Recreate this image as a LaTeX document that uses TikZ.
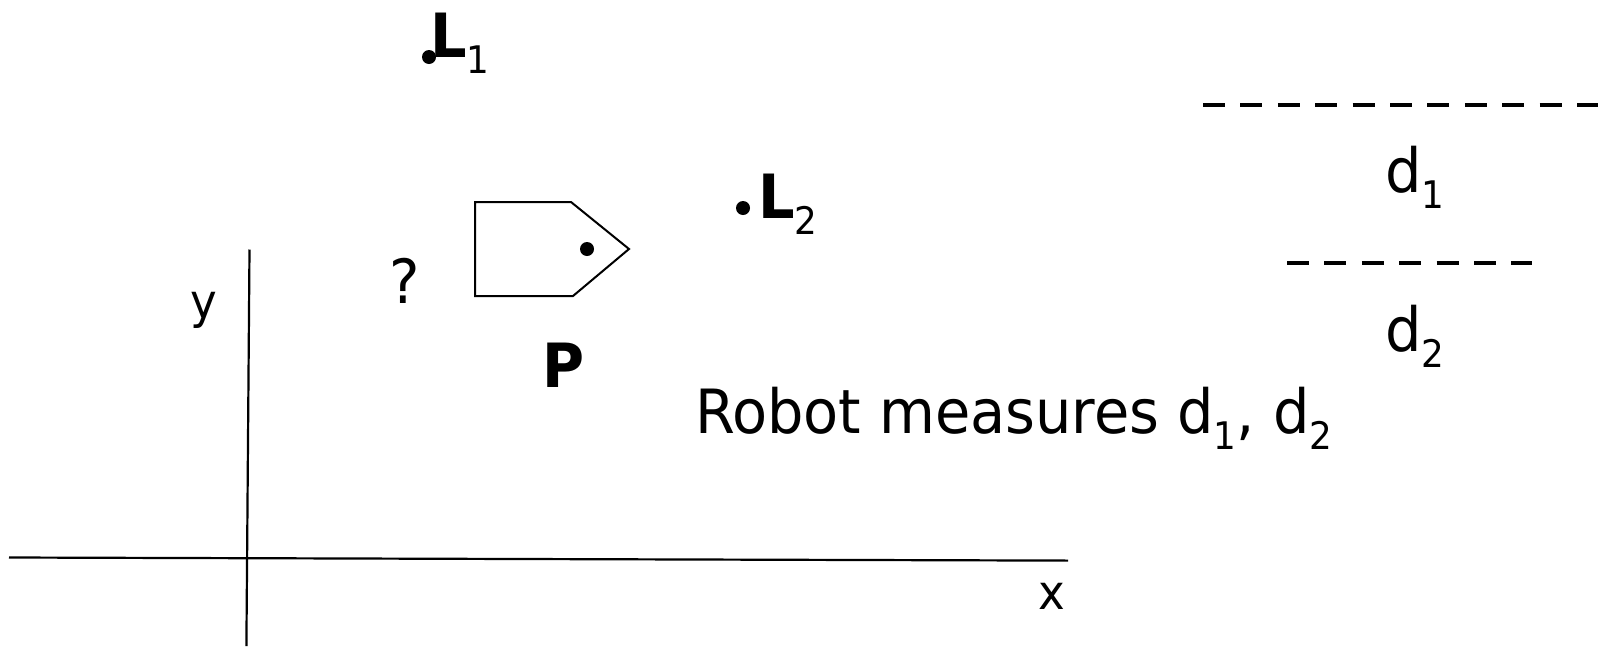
\documentclass[tikz,border=0pt]{standalone}
\usepackage{fontspec}
\setmainfont[FakeStretch=1.045]{DejaVu Sans Condensed}
\newcommand{\bigf}{\fontsize{61}{72}\selectfont}
\newcommand{\axf}{\fontsize{48}{56}\selectfont}
\newcommand{\mysub}[1]{\raisebox{-16pt}{\fontsize{38}{40}\selectfont #1}}
\begin{document}
\begin{tikzpicture}[x=1pt,y=-1pt,
  lbl/.style={inner sep=0pt,anchor=base west,font=\bigf},
  axlbl/.style={inner sep=0pt,anchor=base west,font=\axf},
  axisline/.style={line width=2.2pt},
  dashline/.style={line width=4pt,dash pattern=on 22pt off 15.4pt},
  robotbody/.style={line width=2pt,line join=miter},
  landmark/.style={circle,fill=black,inner sep=0pt,minimum size=14pt}]
\useasboundingbox (0,0) rectangle (1610,646);
% axes
\coordinate (xa) at (9,557.5);
\coordinate (xb) at (1068,560.6);
\coordinate (ya) at (249.5,249.5);
\coordinate (yb) at (246.4,646);
\draw[axisline] (xa) -- (xb);
\draw[axisline] (ya) -- (yb);
\node[axlbl] (ylab) at (190,318) {y};
\node[axlbl] (xlab) at (1038,609) {x};
% landmarks
\node[landmark] (l1dot) at (429,57) {};
\node[lbl] (l1) at (430,57) {\textbf{L}\mysub{1}};
\node[landmark] (l2dot) at (743,208) {};
\node[lbl] (l2) at (758,218) {\textbf{L}\mysub{2}};
% robot
\coordinate (r1) at (475,202);
\coordinate (r2) at (571,202);
\coordinate (r3) at (629,249);
\coordinate (r4) at (573,296);
\coordinate (r5) at (475,296);
\draw[robotbody] (r1) -- (r2) -- (r3) -- (r4) -- (r5) -- cycle;
\node[landmark] (rdot) at (587,249) {};
\node[lbl] (q) at (389,303) {?};
\node[lbl] (p) at (542,387) {\textbf{P}};
\node[lbl] (txt) at (695,433) {Robot measures d\mysub{1}, d\mysub{2}};
% distances
\coordinate (da1) at (1203,105);
\coordinate (da2) at (1598,105);
\coordinate (db1) at (1287,263);
\coordinate (db2) at (1532,263);
\draw[dashline] (da1) -- (da2);
\draw[dashline] (db1) -- (db2);
\node[lbl] (d1) at (1385,192) {d\mysub{1}};
\node[lbl] (d2) at (1385,351) {d\mysub{2}};
\end{tikzpicture}
\end{document}
